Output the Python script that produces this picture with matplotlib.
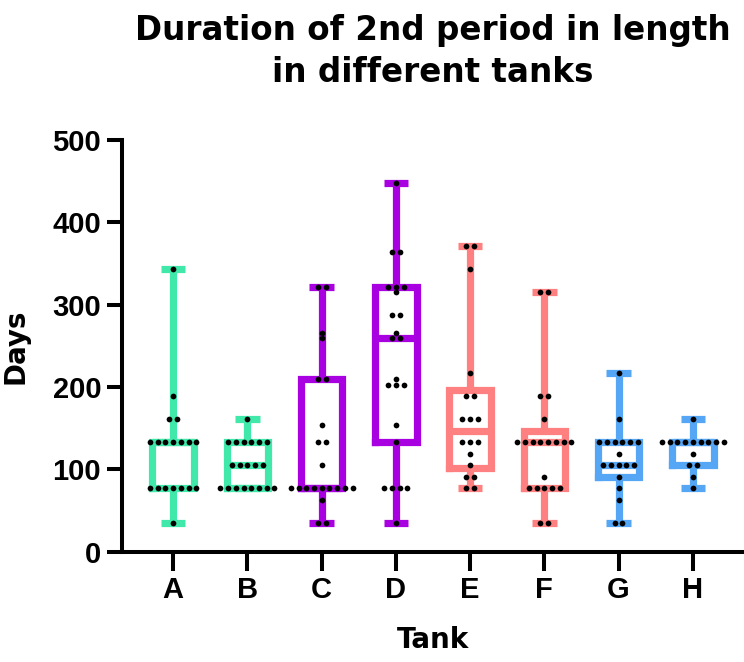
import matplotlib
matplotlib.use("Agg")
import matplotlib.pyplot as plt
import numpy as np

tanks = ["A", "B", "C", "D", "E", "F", "G", "H"]

# days per fish
tank_a = [35, 77, 77, 77, 77, 77, 77, 77, 133, 133, 133, 133, 133, 133, 133,
          161, 161, 189, 343]
tank_b = [77, 77, 77, 77, 77, 77, 77, 77, 105, 105, 105, 105, 105,
          133, 133, 133, 133, 133, 133, 161]
tank_c = [35, 35, 63, 77, 77, 77, 77, 77, 77, 77, 77, 77, 105, 133, 133,
          154, 210, 210, 259, 266, 322, 322]
tank_d = [35, 77, 77, 77, 77, 133, 154, 203, 203, 203, 210, 259, 259, 266,
          287, 287, 315, 322, 322, 322, 364, 364, 448]
tank_e = [77, 77, 91, 91, 105, 119, 133, 133, 133, 161, 161, 161, 189, 189,
          217, 343, 371, 371]
tank_f = [35, 35, 77, 77, 77, 77, 77, 91, 133, 133, 133, 133, 133, 133, 133,
          133, 161, 189, 189, 315, 315]
tank_g = [35, 35, 63, 77, 91, 105, 105, 105, 105, 105, 119, 133, 133, 133,
          133, 133, 133, 161, 217]
tank_h = [77, 91, 105, 105, 119, 133, 133, 133, 133, 133, 133, 133, 133, 133,
          161]

data = [tank_a, tank_b, tank_c, tank_d, tank_e, tank_f, tank_g, tank_h]
colors = ["#40E8AA", "#40E8AA", "#A800E0", "#A800E0",
          "#FF8080", "#FF8080", "#55A6F5", "#55A6F5"]

y_ticks = [0, 100, 200, 300, 400, 500]

plt.rcParams["font.family"] = ["Liberation Sans", "DejaVu Sans"]
plt.rcParams["font.weight"] = "bold"


def box_stats(vals):
    v = np.asarray(vals, dtype=float)
    # Prism style quartiles (n+1 method), whiskers min to max
    q1, med, q3 = np.percentile(v, [25, 50, 75], method="weibull")
    return dict(med=med, q1=q1, q3=q3, whislo=v.min(), whishi=v.max(), fliers=[])


def swarm_x(vals, center, step=0.104):
    vals = np.asarray(vals, dtype=float)
    xs = np.zeros_like(vals)
    for u in np.unique(vals):
        idx = np.where(vals == u)[0]
        k = len(idx)
        xs[idx] = center + (np.arange(k) - (k - 1) / 2) * step
    return xs


fig = plt.figure(figsize=(7.44, 6.62), dpi=100)
ax = fig.add_axes([122 / 744, 110.3 / 662, 622 / 744, 411.7 / 662])

pos = np.arange(len(tanks))
stats = [box_stats(d) for d in data]
art = ax.bxp(stats, positions=pos, widths=0.56, capwidths=0.33,
             showfliers=False, manage_ticks=False)

lw = 5.2
for i, c in enumerate(colors):
    b = art["boxes"][i]
    b.set_color(c)
    b.set_linewidth(lw)
    b.set_solid_joinstyle("miter")
    m = art["medians"][i]
    m.set_color(c)
    m.set_linewidth(lw)
    m.set_solid_capstyle("butt")
    for ln in art["whiskers"][2 * i:2 * i + 2] + art["caps"][2 * i:2 * i + 2]:
        ln.set_color(c)
        ln.set_linewidth(lw)
        ln.set_solid_capstyle("butt")

for i, d in enumerate(data):
    ax.scatter(swarm_x(d, pos[i]), d, s=17, color="black", linewidths=0, zorder=5)

ax.set_xlim(-0.69, 7.69)
ax.set_ylim(0, 500)
ax.set_yticks(y_ticks)
ax.set_xticks(pos)
ax.set_xticklabels(tanks)

ax.spines["top"].set_visible(False)
ax.spines["right"].set_visible(False)
for s in ["left", "bottom"]:
    ax.spines[s].set_linewidth(2.9)
    ax.spines[s].set_capstyle("projecting")
ax.tick_params(axis="y", length=11, width=2.9, pad=4, labelsize=21)
ax.tick_params(axis="x", length=13.5, width=2.9, pad=4, labelsize=21)

ax.set_ylabel("Days", family="DejaVu Sans", fontsize=20, fontweight="bold")
ax.yaxis.set_label_coords(-122 / 622 + 16 / 622, 0.5)
ax.set_xlabel("Tank", family="DejaVu Sans", fontsize=20, fontweight="bold")
ax.xaxis.set_label_coords(0.5, -(640 - 551.7) / 411.7)
ax.xaxis.label.set_va("center")
ax.yaxis.label.set_va("center")

fig.text(433 / 744, 1 - 14 / 662, "Duration of 2nd period in length\nin different tanks",
         ha="center", va="top", family="DejaVu Sans", fontsize=23.5,
         fontweight="bold", linespacing=1.35)

fig.savefig("out.png", dpi=100)
